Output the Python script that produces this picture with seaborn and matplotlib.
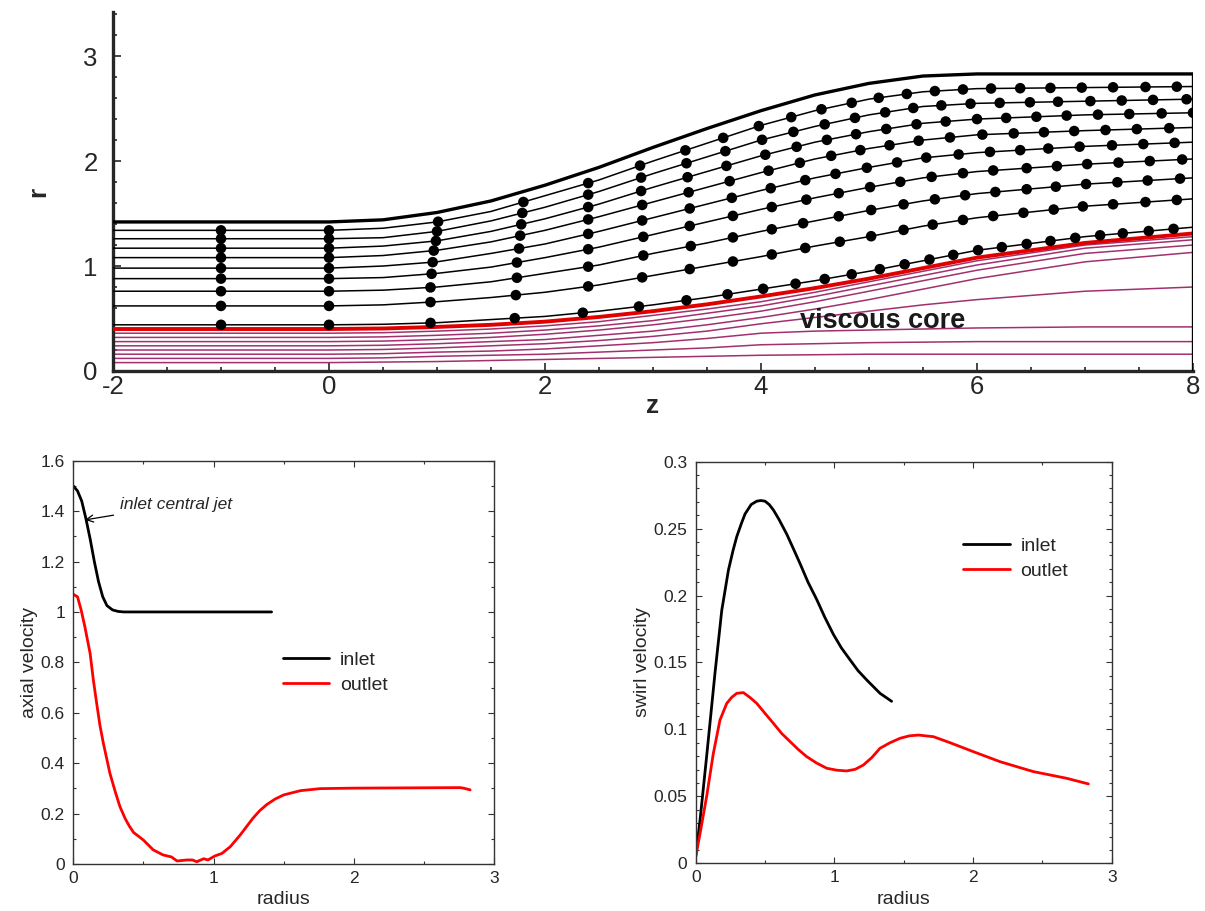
import numpy as np
import pandas as pd
import seaborn as sns
import matplotlib.pyplot as plt
from matplotlib.ticker import MultipleLocator

# ---- top panel: meridional streamlines (z, r) ----
stations = [-2, 0, 0.5, 1, 1.5, 2, 2.5, 3, 3.5, 4, 4.5, 5, 5.5, 6, 7, 8]
wall_r = [1.42, 1.42, 1.44, 1.51, 1.62, 1.77, 1.94, 2.13, 2.31, 2.48, 2.63, 2.74, 2.81, 2.83, 2.83, 2.83]
core_edge_r = [0.40, 0.40, 0.405, 0.42, 0.44, 0.47, 0.515, 0.57, 0.635, 0.71, 0.79, 0.88, 0.98, 1.08, 1.22, 1.31]

# streamlines outside the viscous core, top to bottom
outer_lines = [
    [1.34, 1.34, 1.36, 1.42, 1.52, 1.67, 1.82, 2.00, 2.17, 2.34, 2.48, 2.59, 2.66, 2.69, 2.70, 2.71],
    [1.26, 1.26, 1.27, 1.33, 1.43, 1.56, 1.71, 1.88, 2.04, 2.20, 2.33, 2.44, 2.52, 2.55, 2.57, 2.59],
    [1.17, 1.17, 1.19, 1.24, 1.33, 1.45, 1.59, 1.75, 1.90, 2.05, 2.18, 2.28, 2.36, 2.40, 2.44, 2.46],
    [1.08, 1.08, 1.10, 1.15, 1.23, 1.34, 1.47, 1.61, 1.75, 1.89, 2.02, 2.12, 2.20, 2.25, 2.29, 2.32],
    [0.98, 0.98, 1.00, 1.04, 1.12, 1.21, 1.33, 1.46, 1.59, 1.72, 1.84, 1.94, 2.03, 2.08, 2.14, 2.18],
    [0.88, 0.88, 0.89, 0.93, 0.99, 1.08, 1.18, 1.30, 1.42, 1.54, 1.65, 1.75, 1.84, 1.90, 1.97, 2.02],
    [0.76, 0.76, 0.77, 0.80, 0.85, 0.93, 1.01, 1.12, 1.22, 1.33, 1.43, 1.53, 1.62, 1.69, 1.78, 1.84],
    [0.62, 0.62, 0.63, 0.66, 0.70, 0.75, 0.82, 0.91, 1.00, 1.09, 1.19, 1.28, 1.38, 1.46, 1.57, 1.64],
    [0.44, 0.44, 0.445, 0.46, 0.49, 0.52, 0.57, 0.63, 0.70, 0.78, 0.86, 0.95, 1.05, 1.15, 1.28, 1.37],
]

# streamlines inside the viscous core
core_lines = [
    [0.36, 0.36, 0.365, 0.38, 0.40, 0.43, 0.47, 0.53, 0.59, 0.66, 0.75, 0.85, 0.95, 1.05, 1.20, 1.28],
    [0.32, 0.32, 0.325, 0.34, 0.36, 0.39, 0.43, 0.48, 0.55, 0.62, 0.71, 0.81, 0.91, 1.01, 1.17, 1.25],
    [0.28, 0.28, 0.285, 0.30, 0.32, 0.35, 0.39, 0.44, 0.50, 0.57, 0.66, 0.76, 0.86, 0.96, 1.12, 1.20],
    [0.24, 0.24, 0.245, 0.26, 0.28, 0.30, 0.34, 0.38, 0.44, 0.51, 0.59, 0.68, 0.78, 0.88, 1.04, 1.13],
    [0.20, 0.20, 0.205, 0.22, 0.24, 0.26, 0.29, 0.33, 0.38, 0.45, 0.51, 0.57, 0.63, 0.68, 0.76, 0.80],
    [0.16, 0.16, 0.165, 0.18, 0.19, 0.21, 0.24, 0.27, 0.31, 0.36, 0.38, 0.39, 0.40, 0.41, 0.42, 0.42],
    [0.12, 0.12, 0.125, 0.14, 0.15, 0.16, 0.18, 0.20, 0.22, 0.25, 0.26, 0.27, 0.275, 0.28, 0.28, 0.28],
    [0.08, 0.08, 0.085, 0.09, 0.10, 0.11, 0.12, 0.13, 0.14, 0.15, 0.155, 0.16, 0.16, 0.16, 0.16, 0.16],
]

# particle time markers (z positions) along each outer streamline
dot_z = [
    [-1, 0, 1.01, 1.80, 2.40, 2.88, 3.30, 3.65, 3.98, 4.28, 4.56, 4.84, 5.09, 5.35, 5.61, 5.87, 6.13, 6.40, 6.68, 6.97, 7.26, 7.56, 7.85],
    [-1, 0, 1.00, 1.79, 2.40, 2.89, 3.31, 3.67, 4.01, 4.30, 4.59, 4.87, 5.15, 5.41, 5.67, 5.94, 6.21, 6.49, 6.75, 7.05, 7.34, 7.63, 7.94],
    [-1, 0, 0.99, 1.78, 2.40, 2.89, 3.32, 3.68, 4.04, 4.33, 4.61, 4.88, 5.16, 5.44, 5.71, 6.00, 6.27, 6.55, 6.83, 7.12, 7.41, 7.71, 8.00],
    [-1, 0, 0.97, 1.77, 2.40, 2.90, 3.33, 3.71, 4.07, 4.36, 4.65, 4.92, 5.19, 5.46, 5.75, 6.05, 6.34, 6.62, 6.90, 7.19, 7.48, 7.78],
    [-1, 0, 0.96, 1.76, 2.40, 2.90, 3.34, 3.73, 4.09, 4.41, 4.69, 4.98, 5.26, 5.53, 5.83, 6.12, 6.40, 6.66, 6.95, 7.25, 7.54, 7.83],
    [-1, 0, 0.95, 1.74, 2.40, 2.91, 3.34, 3.74, 4.10, 4.42, 4.72, 5.01, 5.29, 5.58, 5.87, 6.15, 6.46, 6.74, 7.02, 7.31, 7.60, 7.90],
    [-1, 0, 0.94, 1.74, 2.40, 2.91, 3.35, 3.74, 4.10, 4.39, 4.72, 5.02, 5.32, 5.61, 5.89, 6.17, 6.46, 6.73, 7.01, 7.30, 7.58, 7.88],
    [-1, 0, 0.94, 1.73, 2.40, 2.90, 3.34, 3.74, 4.10, 4.41, 4.73, 5.02, 5.32, 5.59, 5.87, 6.15, 6.43, 6.71, 6.98, 7.26, 7.56, 7.85],
    [-1, 0, 0.94, 1.72, 2.35, 2.87, 3.31, 3.69, 4.02, 4.32, 4.59, 4.84, 5.10, 5.33, 5.56, 5.78, 6.01, 6.23, 6.46, 6.68, 6.91, 7.14, 7.35, 7.59, 7.82],
]

# ---- bottom panels: inlet / outlet profiles ----
axial_r_inlet = [0, 0.03, 0.06, 0.09, 0.12, 0.15, 0.18, 0.21, 0.24, 0.28, 0.32, 0.36, 0.5, 1.0, 1.414]
axial_v_inlet = [1.50, 1.48, 1.44, 1.37, 1.29, 1.20, 1.12, 1.06, 1.025, 1.008, 1.002, 1.0, 1.0, 1.0, 1.0]
axial_r_outlet = [0, 0.03, 0.055, 0.083, 0.12, 0.143, 0.166, 0.19, 0.214, 0.261, 0.30, 0.333, 0.37,
                  0.40, 0.43, 0.50, 0.57, 0.64, 0.70, 0.74, 0.81, 0.85, 0.88, 0.93, 0.96, 1.01, 1.06,
                  1.12, 1.19, 1.28, 1.33, 1.38, 1.44, 1.50, 1.62, 1.76, 2.0, 2.76, 2.79, 2.83]
axial_v_outlet = [1.07, 1.06, 1.01, 0.94, 0.835, 0.73, 0.64, 0.55, 0.48, 0.36, 0.285, 0.227, 0.18,
                  0.15, 0.125, 0.095, 0.056, 0.036, 0.028, 0.012, 0.016, 0.016, 0.009, 0.021, 0.016,
                  0.032, 0.042, 0.069, 0.115, 0.181, 0.212, 0.236, 0.258, 0.274, 0.291, 0.299, 0.301,
                  0.303, 0.30, 0.294]

swirl_r_inlet = [0, 0.031, 0.079, 0.139, 0.188, 0.236, 0.27, 0.296, 0.33, 0.356, 0.40, 0.44, 0.47,
                 0.50, 0.53, 0.56, 0.60, 0.656, 0.70, 0.752, 0.81, 0.873, 0.93, 0.993, 1.05, 1.113,
                 1.17, 1.233, 1.329, 1.413]
swirl_v_inlet = [0.005, 0.032, 0.08, 0.142, 0.189, 0.219, 0.234, 0.244, 0.254, 0.261, 0.268, 0.2705,
                 0.271, 0.2705, 0.268, 0.264, 0.257, 0.246, 0.236, 0.224, 0.210, 0.197, 0.184, 0.171,
                 0.161, 0.152, 0.144, 0.137, 0.127, 0.121]
swirl_r_outlet = [0, 0.031, 0.079, 0.127, 0.175, 0.224, 0.26, 0.296, 0.344, 0.39, 0.44, 0.50, 0.56,
                  0.62, 0.68, 0.74, 0.80, 0.87, 0.945, 1.02, 1.089, 1.15, 1.209, 1.27, 1.329, 1.40,
                  1.474, 1.54, 1.606, 1.714, 1.834, 2.002, 2.195, 2.435, 2.675, 2.832]
swirl_v_outlet = [0.005, 0.022, 0.05, 0.082, 0.107, 0.1195, 0.124, 0.127, 0.1275, 0.124, 0.1195,
                  0.112, 0.1046, 0.097, 0.091, 0.085, 0.0797, 0.075, 0.071, 0.0695, 0.069, 0.0702,
                  0.0734, 0.079, 0.0859, 0.090, 0.0934, 0.0952, 0.0958, 0.0946, 0.0901, 0.0834,
                  0.0759, 0.0685, 0.0635, 0.0593]

sns.set_style("ticks")
plt.rcParams['font.family'] = ['Liberation Sans', 'DejaVu Sans']
plt.rcParams['axes.unicode_minus'] = False

W, H = 1205, 911
fig = plt.figure(figsize=(W / 100, H / 100), dpi=100)
ax_top = fig.add_axes([113 / W, 1 - 371 / H, 1080 / W, 359 / H])
ax_ax = fig.add_axes([73.3 / W, 1 - 864 / H, 420.7 / W, 403.3 / H])
ax_sw = fig.add_axes([695.7 / W, 1 - 863.3 / H, 416 / W, 401.6 / H])

# ---- top panel ----
for r in core_lines:
    ax_top.plot(stations, r, color='#a3306e', lw=1.1, zorder=2)
ax_top.plot(stations, core_edge_r, color='#e00000', lw=2.8, zorder=3)
for r in outer_lines:
    ax_top.plot(stations, r, color='black', lw=1.1, zorder=3)

dots = pd.concat([
    pd.DataFrame({'z': zs, 'r': np.interp(zs, stations, r)})
    for zs, r in zip(dot_z, outer_lines)
])
sns.scatterplot(data=dots, x='z', y='r', color='black', s=58, edgecolor='none',
                ax=ax_top, zorder=4, legend=False)

ax_top.plot(stations, wall_r, color='black', lw=2.4, zorder=5)
ax_top.vlines(stations[-1], 0, wall_r[-1], color='black', lw=2.4, zorder=5)
ax_top.text(4.36, 0.48, 'viscous core', fontsize=19.5, fontweight='bold', color='#1a1a1a',
            ha='left', va='center', zorder=6)

ax_top.set_xlim(-2, 8)
ax_top.set_ylim(0, 3.42)
ax_top.xaxis.set_major_locator(MultipleLocator(2))
ax_top.xaxis.set_minor_locator(MultipleLocator(0.5))
ax_top.yaxis.set_major_locator(MultipleLocator(1))
ax_top.yaxis.set_minor_locator(MultipleLocator(0.2))
sns.despine(ax=ax_top)
for s in ['left', 'bottom']:
    ax_top.spines[s].set_linewidth(2.4)
ax_top.tick_params(which='both', direction='in', width=1.2, labelsize=18.5)
ax_top.tick_params(which='major', length=6)
ax_top.tick_params(which='minor', length=3)
ax_top.tick_params(axis='x', pad=3)
ax_top.tick_params(axis='y', pad=11)
ax_top.set_xlabel('z', fontsize=19, fontweight='bold', labelpad=-4)
ax_top.set_ylabel('r', fontsize=19, fontweight='bold', labelpad=24)

# ---- bottom panels ----
axial = pd.concat([
    pd.DataFrame({'radius': axial_r_inlet, 'v': axial_v_inlet, 'station': 'inlet'}),
    pd.DataFrame({'radius': axial_r_outlet, 'v': axial_v_outlet, 'station': 'outlet'}),
])
swirl = pd.concat([
    pd.DataFrame({'radius': swirl_r_inlet, 'v': swirl_v_inlet, 'station': 'inlet'}),
    pd.DataFrame({'radius': swirl_r_outlet, 'v': swirl_v_outlet, 'station': 'outlet'}),
])
palette = {'inlet': 'black', 'outlet': 'red'}

for ax, df, ylab, ymax, ymaj, ymin, leg_xy in [
    (ax_ax, axial, 'axial velocity', 1.6, 0.2, 0.1, (0.498, 0.528)),
    (ax_sw, swirl, 'swirl velocity', 0.3, 0.05, 0.01, (0.643, 0.812)),
]:
    sns.lineplot(data=df, x='radius', y='v', hue='station', palette=palette,
                 sort=False, estimator=None, lw=2.0, ax=ax)
    ax.set_xlim(0, 3)
    ax.set_ylim(0, ymax)
    ax.xaxis.set_major_locator(MultipleLocator(1))
    ax.xaxis.set_minor_locator(MultipleLocator(0.5))
    ax.yaxis.set_major_locator(MultipleLocator(ymaj))
    ax.yaxis.set_minor_locator(MultipleLocator(ymin))
    ax.yaxis.set_major_formatter(plt.FuncFormatter(lambda v, p: f'{v:g}'))
    ax.tick_params(which='both', direction='in', top=True, right=True,
                   width=0.8, color='#333333', labelsize=12.5)
    ax.tick_params(which='major', length=4)
    ax.tick_params(which='minor', length=2.5)
    ax.tick_params(axis='y', pad=6)
    ax.tick_params(axis='x', pad=5)
    for s in ax.spines.values():
        s.set_linewidth(1.0)
        s.set_color('#333333')
    ax.set_xlabel('radius', fontsize=14, labelpad=4)
    ax.set_ylabel(ylab, fontsize=14, labelpad=2)
    ax.legend(frameon=False, loc='upper left', bbox_to_anchor=leg_xy,
              borderpad=0, borderaxespad=0, fontsize=14, handlelength=2.4,
              handletextpad=0.55, labelspacing=0.4)

ax_ax.annotate('inlet central jet', xy=(0.083, 1.365), xytext=(0.33, 1.425),
               fontsize=12.5, fontstyle='italic', va='center', ha='left',
               arrowprops=dict(arrowstyle='->', color='black', lw=0.9,
                               shrinkA=2, shrinkB=0))

fig.savefig('out.png', dpi=100)
